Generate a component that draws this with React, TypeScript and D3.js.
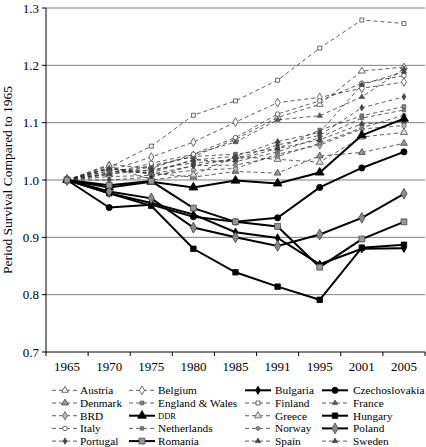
import React from "react";
import * as d3 from "d3";

const years = ["1965", "1970", "1975", "1980", "1985", "1991", "1995", "2001", "2005"];
const yTicks = [0.7, 0.8, 0.9, 1.0, 1.1, 1.2, 1.3];

// Western countries (dashed)
const austria = [1.0, 1.010, 1.023, 1.041, 1.071, 1.109, 1.132, 1.190, 1.197];
const belgium = [1.0, 1.016, 1.040, 1.066, 1.101, 1.135, 1.144, 1.160, 1.171];
const denmark = [1.0, 1.020, 1.012, 1.005, 1.015, 1.012, 1.042, 1.048, 1.064];
const englandWales = [1.0, 1.012, 1.025, 1.041, 1.045, 1.055, 1.087, 1.112, 1.128];
const finland = [1.0, 1.022, 1.059, 1.113, 1.138, 1.174, 1.230, 1.279, 1.273];
const france = [1.0, 1.027, 1.020, 1.045, 1.066, 1.105, 1.112, 1.145, 1.194];
const brd = [1.0, 1.006, 1.008, 1.017, 1.020, 1.045, 1.061, 1.089, 1.095];
const greece = [1.0, 1.025, 1.000, 1.009, 1.041, 1.036, 1.031, 1.075, 1.083];
const italy = [1.0, 1.012, 1.029, 1.045, 1.074, 1.115, 1.138, 1.169, 1.182];
const netherlands = [1.0, 1.016, 1.012, 1.035, 1.032, 1.049, 1.074, 1.108, 1.122];
const norway = [1.0, 1.020, 1.010, 1.025, 1.026, 1.041, 1.064, 1.091, 1.113];
const portugal = [1.0, 1.000, 1.005, 1.025, 1.037, 1.061, 1.078, 1.126, 1.145];
const spain = [1.0, 1.020, 1.015, 1.035, 1.041, 1.067, 1.083, 1.166, 1.189];
const sweden = [1.0, 1.010, 1.018, 1.030, 1.035, 1.055, 1.070, 1.098, 1.102];

// Eastern countries (solid)
const bulgaria = [1.0, 0.977, 0.960, 0.940, 0.909, 0.899, 0.853, 0.880, 0.881];
const czechoslovakia = [1.0, 0.952, 0.957, 0.936, 0.927, 0.934, 0.987, 1.021, 1.049];
const ddr = [1.0, 0.987, 0.997, 0.987, 0.999, 0.994, 1.013, 1.078, 1.107];
const hungary = [1.0, 0.977, 0.955, 0.880, 0.839, 0.814, 0.791, 0.882, 0.887];
const poland = [1.0, 0.980, 0.968, 0.917, 0.900, 0.885, 0.905, 0.934, 0.976];
const romania = [1.0, 0.991, 0.998, 0.951, 0.927, 0.919, 0.848, 0.897, 0.927];

type Shape = "triangle" | "diamond" | "square" | "circle";
interface Series {
  name: string;
  values: number[];
  east: boolean;
  shape: Shape;
  fill: string;
  stroke: string;
  size: number;
  small?: boolean;
}

const series: Series[] = [
  { name: "Austria", values: austria, east: false, shape: "triangle", fill: "#fff", stroke: "#444", size: 20 },
  { name: "Belgium", values: belgium, east: false, shape: "diamond", fill: "#fff", stroke: "#444", size: 22 },
  { name: "Bulgaria", values: bulgaria, east: true, shape: "diamond", fill: "#000", stroke: "#000", size: 20 },
  { name: "Czechoslovakia", values: czechoslovakia, east: true, shape: "circle", fill: "#000", stroke: "#000", size: 30 },
  { name: "Denmark", values: denmark, east: false, shape: "triangle", fill: "#999", stroke: "#444", size: 20 },
  { name: "England & Wales", values: englandWales, east: false, shape: "square", fill: "#888", stroke: "#555", size: 14 },
  { name: "Finland", values: finland, east: false, shape: "square", fill: "#fff", stroke: "#444", size: 16 },
  { name: "France", values: france, east: false, shape: "triangle", fill: "#555", stroke: "#555", size: 12 },
  { name: "BRD", values: brd, east: false, shape: "diamond", fill: "#bbb", stroke: "#555", size: 20 },
  { name: "DDR", values: ddr, east: true, shape: "triangle", fill: "#000", stroke: "#000", size: 34, small: true },
  { name: "Greece", values: greece, east: false, shape: "triangle", fill: "#ddd", stroke: "#555", size: 22 },
  { name: "Hungary", values: hungary, east: true, shape: "square", fill: "#000", stroke: "#000", size: 30 },
  { name: "Italy", values: italy, east: false, shape: "circle", fill: "#fff", stroke: "#444", size: 16 },
  { name: "Netherlands", values: netherlands, east: false, shape: "square", fill: "#777", stroke: "#666", size: 12 },
  { name: "Norway", values: norway, east: false, shape: "circle", fill: "#888", stroke: "#666", size: 12 },
  { name: "Poland", values: poland, east: true, shape: "diamond", fill: "#888", stroke: "#444", size: 34 },
  { name: "Portugal", values: portugal, east: false, shape: "diamond", fill: "#444", stroke: "#444", size: 12 },
  { name: "Romania", values: romania, east: true, shape: "square", fill: "#999", stroke: "#444", size: 34 },
  { name: "Spain", values: spain, east: false, shape: "triangle", fill: "#444", stroke: "#444", size: 12 },
  { name: "Sweden", values: sweden, east: false, shape: "triangle", fill: "#444", stroke: "#444", size: 12 },
];

const symbolTypes: Record<Shape, d3.SymbolType> = {
  triangle: d3.symbolTriangle,
  diamond: d3.symbolDiamond,
  square: d3.symbolSquare,
  circle: d3.symbolCircle,
};

const W = 426;
const H = 447;
const left = 46;
const right = 425;
const top = 8;
const bottom = 352;
const FONT = '"Liberation Serif", "DejaVu Serif", "Noto Serif", serif';
const txt = { fontFamily: FONT };
const DASH_COLOR = "#2a2a2a";

export default function App() {
  const x = d3.scaleBand<string>().domain(years).range([left, right]).padding(0);
  const cx = (yr: string) => (x(yr) as number) + x.bandwidth() / 2;
  const y = d3.scaleLinear().domain([0.7, 1.3]).range([bottom, top]);

  const line = d3
    .line<number>()
    .x((_, i) => cx(years[i]))
    .y((v) => y(v));

  const marker = (s: Series) => d3.symbol().type(symbolTypes[s.shape]).size(s.size)() as string;

  const west = series.filter((s) => !s.east);
  const east = series.filter((s) => s.east);

  const legendCols = [
    { sx: 52, tx: 80 },
    { sx: 129, tx: 158 },
    { sx: 245, tx: 275 },
    { sx: 322, tx: 353 },
  ];
  const legendY0 = 390.3;
  const legendDy = 12.7;

  const renderSeries = (s: Series) => (
    <g key={s.name}>
      <path
        d={line(s.values) as string}
        fill="none"
        stroke={s.east ? "#000" : DASH_COLOR}
        strokeWidth={s.east ? 2 : 0.75}
        strokeDasharray={s.east ? undefined : "4,3"}
      />
      {s.values.map((v, i) => (
        <path
          key={i}
          d={marker(s)}
          transform={`translate(${cx(years[i])},${y(v)})`}
          fill={s.fill}
          stroke={s.stroke}
          strokeWidth={0.8}
        />
      ))}
    </g>
  );

  return (
    <svg
      width={W}
      height={H}
      style={{ position: "absolute", left: 0, top: 0, background: "#fff", fontFamily: FONT }}
    >
      {/* gridlines */}
      {yTicks.filter((t) => t > 0.7).map((t) => (
        <line key={t} x1={left} x2={right} y1={y(t)} y2={y(t)} stroke="#808080" strokeWidth={1} />
      ))}
      {/* y axis */}
      <line x1={left} x2={left} y1={top} y2={bottom} stroke="#000" strokeWidth={1} />
      {yTicks.map((t) => (
        <g key={t}>
          <line x1={left - 4} x2={left} y1={y(t)} y2={y(t)} stroke="#000" />
          <text x={left - 7} y={y(t)} dy="0.35em" textAnchor="end" fontSize={13} fill="#000" style={txt}>
            {t.toFixed(1)}
          </text>
        </g>
      ))}
      {/* x axis */}
      <line x1={left} x2={right} y1={bottom} y2={bottom} stroke="#000" strokeWidth={1} />
      {[...years.map((yr) => x(yr) as number), right].map((px, i) => (
        <line key={i} x1={px} x2={px} y1={bottom} y2={bottom + 4} stroke="#000" />
      ))}
      {years.map((yr) => (
        <text key={yr} x={cx(yr)} y={bottom + 19} textAnchor="middle" fontSize={13} fill="#000" style={txt}>
          {yr}
        </text>
      ))}
      <text
        transform={`translate(12,${(top + bottom) / 2}) rotate(-90)`}
        textAnchor="middle"
        fontSize={13.5}
        fill="#000"
        style={txt}
      >
        Period Survival Compared to 1965
      </text>

      {west.map(renderSeries)}
      {east.map(renderSeries)}

      {/* legend */}
      {series.map((s, i) => {
        const col = legendCols[i % 4];
        const row = Math.floor(i / 4);
        const ly = legendY0 + row * legendDy;
        const mid = col.sx + 13;
        return (
          <g key={s.name}>
            <line
              x1={col.sx}
              x2={col.sx + 26}
              y1={ly}
              y2={ly}
              stroke={s.east ? "#000" : DASH_COLOR}
              strokeWidth={s.east ? 2 : 0.75}
              strokeDasharray={s.east ? undefined : "4,3"}
            />
            <path
              d={marker(s)}
              transform={`translate(${mid},${ly})`}
              fill={s.fill}
              stroke={s.stroke}
              strokeWidth={0.8}
            />
            <text x={col.tx} y={ly} dy="0.35em" fontSize={s.small ? 8.5 : 11.3} fill="#000" style={txt}>
              {s.name}
            </text>
          </g>
        );
      })}
    </svg>
  );
}
